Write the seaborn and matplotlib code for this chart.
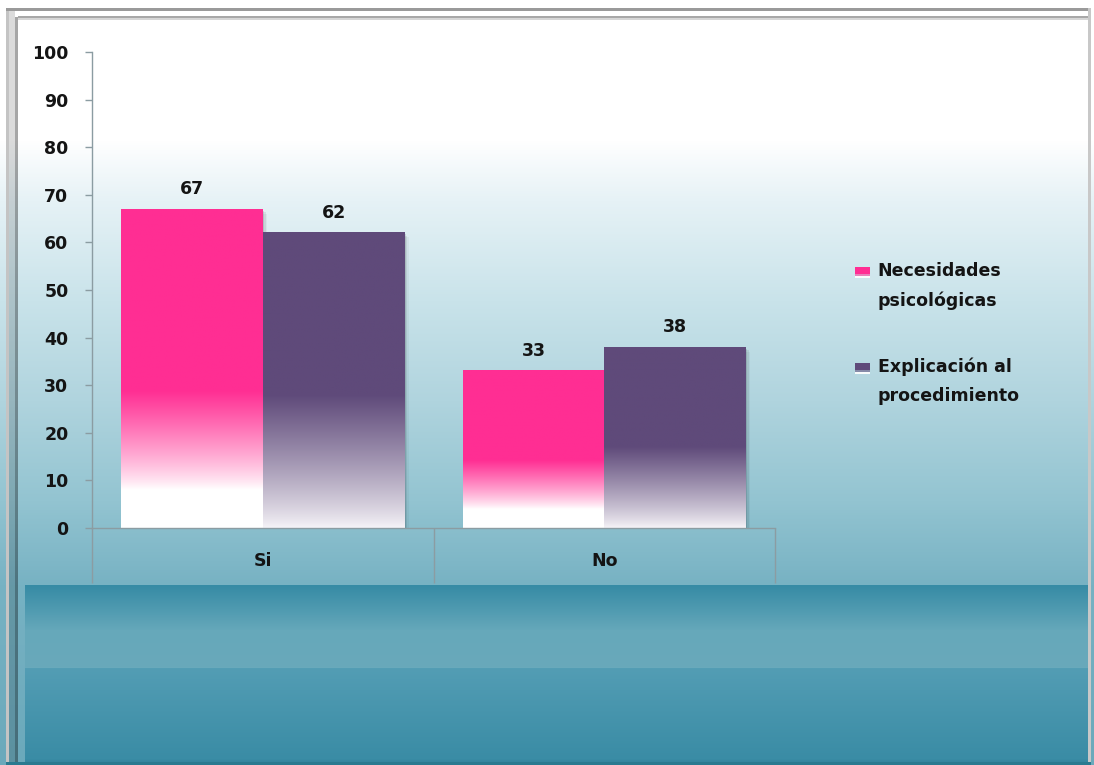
import textwrap

import numpy as np
import pandas as pd
import matplotlib
matplotlib.use("Agg")
import matplotlib.pyplot as plt
import matplotlib.colors as mcolors
from matplotlib.patches import Rectangle
from matplotlib.legend_handler import HandlerBase
import seaborn as sns

# ---------------------------------------------------------------- data
categories = ["Si", "No"]
series = ["Necesidades psicológicas", "Explicación al procedimiento"]
necesidades = [67, 33]
explicacion = [62, 38]
yticks = list(range(0, 101, 10))

# ---------------------------------------------------------------- style
PINK = "#FF2E93"
PURPLE = "#5F4A7A"
palette = {series[0]: PINK, series[1]: PURPLE}
TEXT = "#141414"
AXIS = "#8B9CA2"
FS = 12.5

W, H = 1094, 765

sns.set_theme(style="white")
plt.rcParams["font.family"] = ["DejaVu Sans"]

df = pd.DataFrame({
    "respuesta": categories * 2,
    "serie": [series[0]] * len(categories) + [series[1]] * len(categories),
    "valor": necesidades + explicacion,
})

fig = plt.figure(figsize=(W / 100, H / 100), dpi=100)

# ---------------------------------------------------------------- backdrop
bg = fig.add_axes([0, 0, 1, 1], zorder=-10)
bg.set_xlim(0, W)
bg.set_ylim(H, 0)
bg.axis("off")

stops = [(0, "#FFFFFF"), (140, "#FFFFFF"), (200, "#E6F2F6"), (300, "#C9E3EA"),
         (400, "#B0D4DE"), (500, "#93C4D1"), (584, "#77B2C3")]
band = [(585, "#368BA5"), (630, "#66A8BA"), (667, "#69A9BB"), (668, "#539DB4"),
        (758, "#3A8CA5"), (765, "#2F8099")]


def ramp(stop_list, rows):
    ys = [s[0] for s in stop_list]
    cs = np.array([mcolors.to_rgb(s[1]) for s in stop_list])
    return np.stack([np.interp(rows, ys, cs[:, k]) for k in range(3)], axis=1)


rows = np.arange(H)
upper = ramp(stops + [(765, "#6BA9BB")], rows)
lower = ramp(band, rows)
img = np.repeat(upper[:, None, :], W, axis=1)
img[585:, 25:1088] = np.repeat(lower[585:, None, :], 1088 - 25, axis=1)
bg.imshow(img, extent=(0, W, H, 0), aspect="auto", interpolation="bilinear")

# bevelled frame
bg.add_patch(Rectangle((6, 8), 3, H - 8, color="#C4C4C4", lw=0))
bg.add_patch(Rectangle((9, 8), 6, H - 8, color="black", alpha=0.14, lw=0))
bg.add_patch(Rectangle((15, 17), 3, H - 17, color="black", alpha=0.35, lw=0))
bg.add_patch(Rectangle((6, 8), 1085, 3, color="#9A9A9A", lw=0))
bg.add_patch(Rectangle((18, 16), 1070, 2, color="#A8A8A8", lw=0))
bg.add_patch(Rectangle((18, 18), 1070, 2, color="#D6D6D6", lw=0))
bg.add_patch(Rectangle((1088, 8), 3, H - 8, color="#C8C8C8", lw=0))
bg.add_patch(Rectangle((6, H - 3), 1085, 3, color="#2A7A90", lw=0))

# ---------------------------------------------------------------- bars
ax = fig.add_axes([92 / W, (H - 528) / H, (775 - 92) / W, (528 - 52) / H])
ax.patch.set_alpha(0)

sns.barplot(data=df, x="respuesta", y="valor", hue="serie", order=categories,
            hue_order=series, palette=palette, width=0.83, saturation=1,
            errorbar=None, legend=False, ax=ax)


def fade(color, solid_from, white_until, floor, n=256):
    f = np.linspace(0, 1, n)
    t = np.clip((f - white_until) / (solid_from - white_until), 0, 1)
    t = t ** 0.85
    base = np.array(mcolors.to_rgb(floor))
    top = np.array(mcolors.to_rgb(color))
    rgb = base[None, :] * (1 - t[:, None]) + top[None, :] * t[:, None]
    return rgb[:, None, :]


gradients = {
    series[0]: fade(PINK, 0.43, 0.12, "#FFFFFF"),
    series[1]: fade(PURPLE, 0.45, 0.0, "#F6F4F8"),
}

px_per_x = ax.bbox.width / 2.0
for name, container in zip(series, ax.containers):
    for bar in container:
        x0, w, h = bar.get_x(), bar.get_width(), bar.get_height()
        bar.set_facecolor("none")
        bar.set_edgecolor("none")
        # soft drop shadow on the right side
        for off, a in [(1.5, 0.10), (3.0, 0.07), (4.5, 0.04)]:
            ax.add_patch(Rectangle((x0 + off / px_per_x, 0), w, h - off * 0.21,
                                   color="black", alpha=a, lw=0, zorder=1.5))
        ax.imshow(gradients[name], extent=(x0, x0 + w, 0, h), origin="lower",
                  aspect="auto", interpolation="bilinear", zorder=2)
    ax.bar_label(container, fmt="%g", padding=8, fontsize=FS,
                 fontweight="bold", color=TEXT)

ax.set_xlim(-0.5, len(categories) - 0.5)
ax.set_ylim(0, 100)
ax.set_yticks(yticks)
ax.set_xlabel("")
ax.set_ylabel("")

for side in ("top", "right"):
    ax.spines[side].set_visible(False)
for side in ("left", "bottom"):
    ax.spines[side].set_color(AXIS)
    ax.spines[side].set_linewidth(1.0)
    ax.spines[side].set_zorder(3)

ax.tick_params(axis="y", direction="out", length=5, width=1, color=AXIS,
               pad=12, labelsize=FS, labelcolor=TEXT, left=True)
ax.tick_params(axis="x", length=0, pad=17.5, labelsize=FS, labelcolor=TEXT)
for lab in ax.get_yticklabels() + ax.get_xticklabels():
    lab.set_fontweight("bold")

# category separators below the axis
edges = np.arange(len(categories) + 1) - 0.5
ax.vlines(edges, 0, -11.5, colors=AXIS, lw=1, clip_on=False, zorder=3)


# ---------------------------------------------------------------- legend
class GradientKey(HandlerBase):
    """Small key swatch, solid on top and fading at the bottom, set on the
    first line of a wrapped label."""

    def __init__(self, lift):
        super().__init__()
        self.lift = lift

    def create_artists(self, legend, orig_handle, xdescent, ydescent, width,
                       height, fontsize, trans):
        color = orig_handle.get_facecolor()
        y0 = -ydescent + self.lift
        solid = Rectangle((-xdescent, y0 + height * 0.38), width, height * 0.62,
                          facecolor=color, lw=0, transform=trans)
        mid = Rectangle((-xdescent, y0 + height * 0.18), width, height * 0.22,
                        facecolor=color, alpha=0.55, lw=0, transform=trans)
        low = Rectangle((-xdescent, y0), width, height * 0.2,
                        facecolor="white", alpha=0.9, lw=0, transform=trans)
        return [solid, mid, low]


handles = [Rectangle((0, 0), 1, 1, facecolor=palette[s]) for s in series]
labels = [textwrap.fill(s, 14) for s in series]
lift_pt = 14 * 72 / 100
leg = fig.legend(handles, labels, loc="upper left",
                 bbox_to_anchor=(855 / W, 1 - 262 / H), frameon=False,
                 prop=dict(size=FS, weight="bold"), handlelength=0.86,
                 handleheight=0.58, handletextpad=0.45, labelspacing=2.77,
                 borderpad=0, borderaxespad=0,
                 handler_map={Rectangle: GradientKey(lift_pt)})
for t in leg.get_texts():
    t.set_linespacing(1.77)
    t.set_color(TEXT)

fig.savefig("out.png", dpi=100)
